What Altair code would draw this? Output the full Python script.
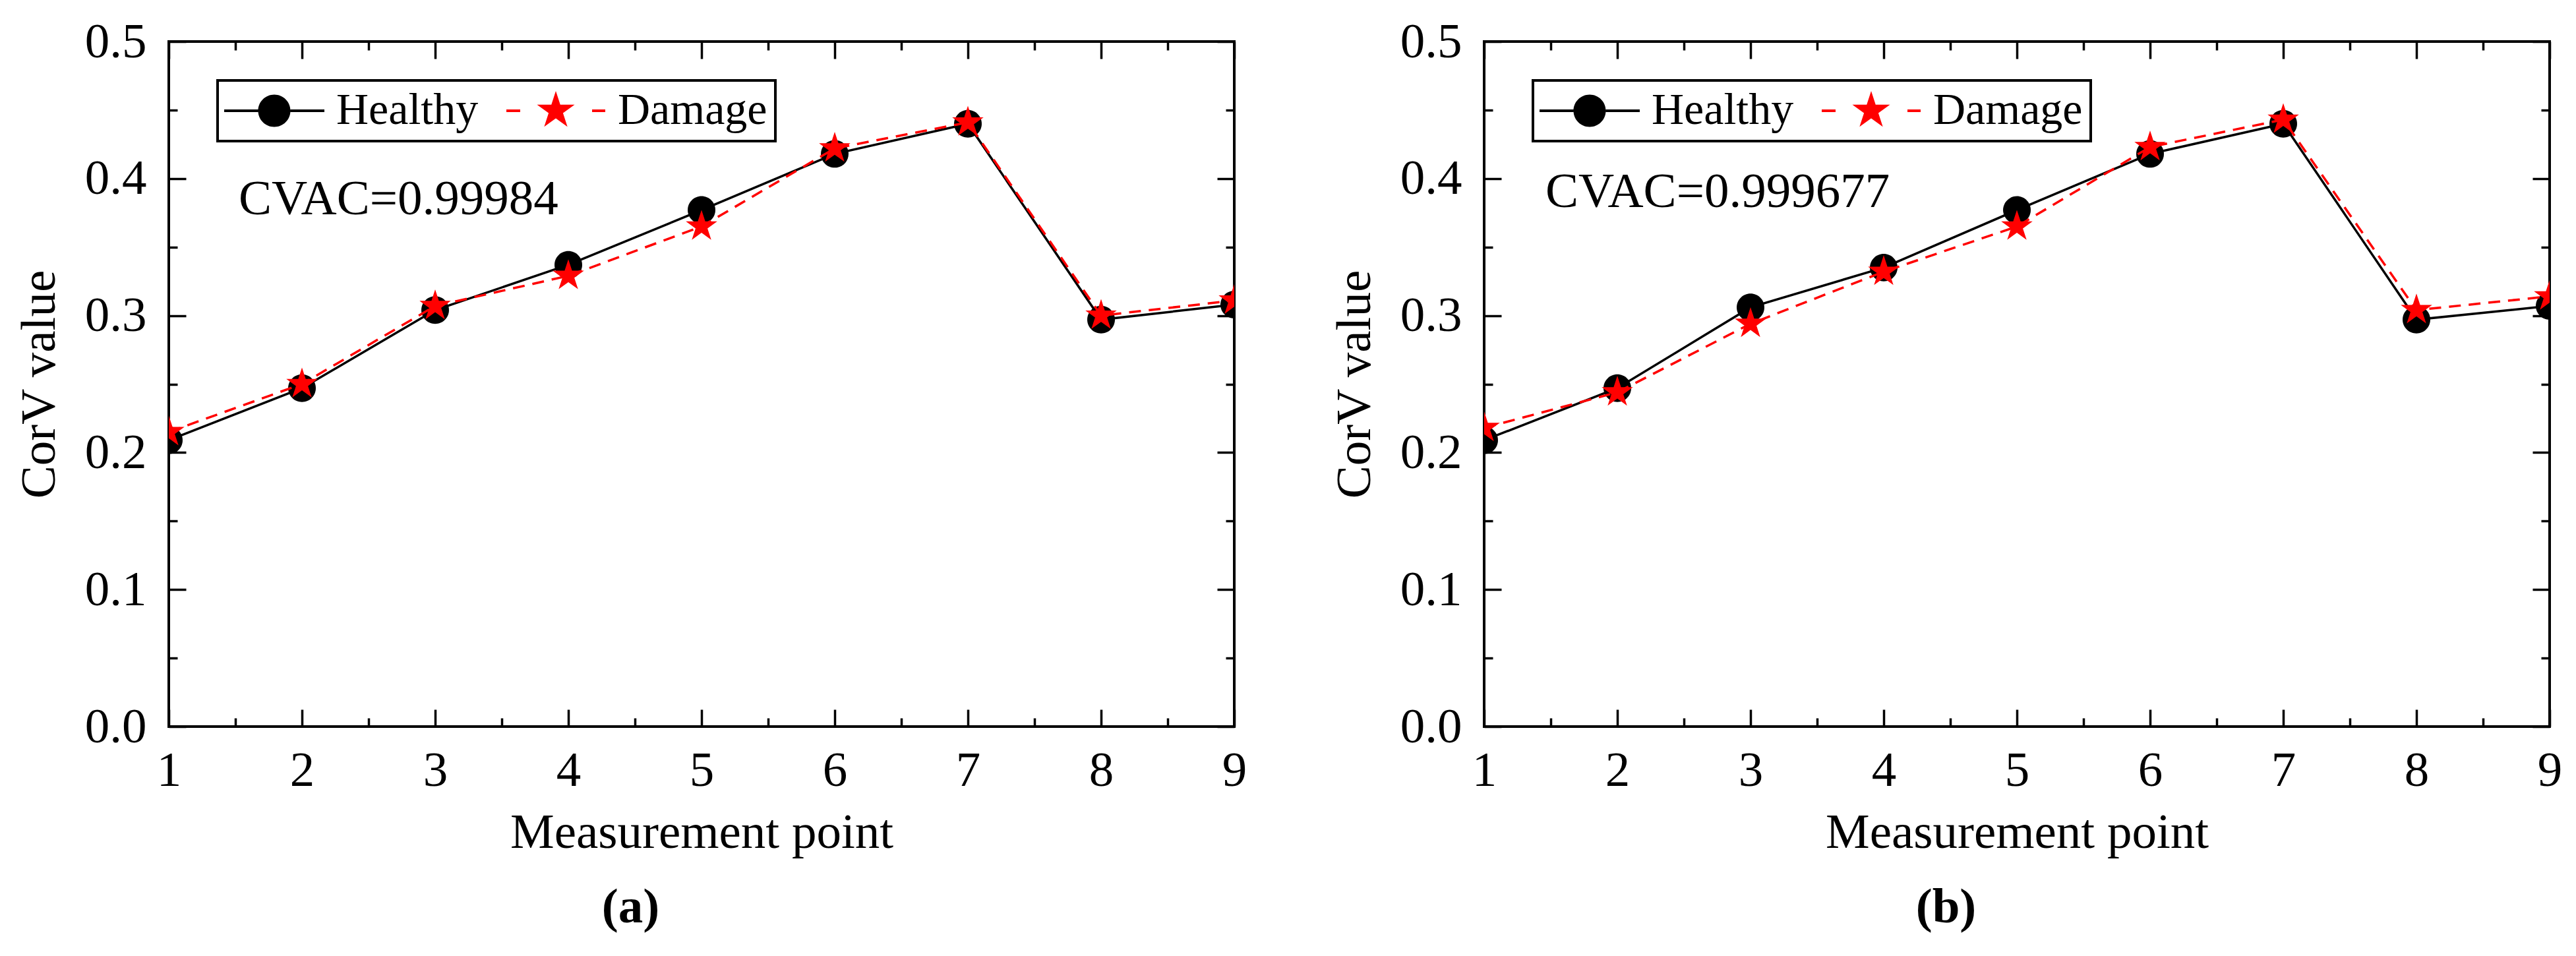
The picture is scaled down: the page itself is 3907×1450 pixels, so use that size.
import altair as alt
import pandas as pd

# ---------------------------------------------------------------------------
# Data
# ---------------------------------------------------------------------------

POINTS = [1, 2, 3, 4, 5, 6, 7, 8, 9]
SERIES = ["Healthy", "Damage"]

HEALTHY_A = [0.209, 0.247, 0.304, 0.337, 0.377, 0.418, 0.440, 0.297, 0.308]
DAMAGE_A = [0.215, 0.250, 0.307, 0.329, 0.365, 0.422, 0.441, 0.300, 0.311]

HEALTHY_B = [0.209, 0.247, 0.306, 0.335, 0.377, 0.418, 0.440, 0.297, 0.307]
DAMAGE_B = [0.218, 0.244, 0.294, 0.332, 0.365, 0.423, 0.443, 0.304, 0.314]

CVAC_A = "CVAC=0.99984"
CVAC_B = "CVAC=0.999677"
PANEL_LABELS = ["(a)", "(b)"]

X_MAJOR = [1, 2, 3, 4, 5, 6, 7, 8, 9]
X_MINOR = [1.5, 2.5, 3.5, 4.5, 5.5, 6.5, 7.5, 8.5]
Y_MAJOR = [0.0, 0.1, 0.2, 0.3, 0.4, 0.5]
Y_MINOR = [0.05, 0.15, 0.25, 0.35, 0.45]

# ---------------------------------------------------------------------------
# Style
# ---------------------------------------------------------------------------

FONT = "Liberation Serif"
W, H = 1616, 1039
FS = 75
MAJOR, MINOR = 26, 13

STAR = ("M0,-1L0.225,-0.309L0.951,-0.309L0.363,0.118L0.588,0.809L0,0.382"
        "L-0.588,0.809L-0.363,0.118L-0.951,-0.309L-0.225,-0.309Z")
DOT = "M-1,0A1,1 0 1,1 1,0A1,1 0 1,1 -1,0Z"

# legend glyphs: line + marker drawn as one filled path
LEG_HEALTHY = ("M-3.04,-0.08H-0.98V0.08H-3.04Z M0.98,-0.08H3.04V0.08H0.98Z "
               "M-0.98,0A0.98,0.98 0 1,1 0.98,0A0.98,0.98 0 1,1 -0.98,0Z")
LEG_DAMAGE = ("M-3.0,-0.08H-2.16V0.08H-3.0Z M2.2,-0.08H3.0V0.08H2.2Z "
              "M0,-1.2L0.27,-0.371L1.141,-0.371L0.436,0.142L0.706,0.971L0,0.458"
              "L-0.706,0.971L-0.436,0.142L-1.141,-0.371L-0.27,-0.371Z")

x_scale = alt.Scale(domain=[1, 9], nice=False, zero=False)
y_scale = alt.Scale(domain=[0, 0.5], nice=False, zero=False)

x_ticks = sorted(X_MAJOR + X_MINOR)
y_ticks = sorted(Y_MAJOR + Y_MINOR)
x_size = {"condition": {"test": "datum.value % 1 === 0", "value": MAJOR}, "value": MINOR}
y_size = {"condition": {"test": "round(datum.value * 20) % 2 === 0", "value": MAJOR},
          "value": MINOR}


def tick_axis(orient, offset, values, size):
    return alt.Axis(orient=orient, offset=offset, values=values, labels=False,
                    domain=False, grid=False, title=None, tickSize=size,
                    tickWidth=3.5, tickColor="black")


def panel(healthy, damage, cvac, cvac_x, cvac_y, label):
    df = pd.DataFrame({
        "point": POINTS + POINTS,
        "value": healthy + damage,
        "series": ["Healthy"] * len(POINTS) + ["Damage"] * len(POINTS),
    })
    base = alt.Chart(df)
    h = base.transform_filter("datum.series == 'Healthy'")
    d = base.transform_filter("datum.series == 'Damage'")

    no_x = alt.X("point:Q", scale=x_scale, axis=None)
    no_y = alt.Y("value:Q", scale=y_scale, axis=None)

    # healthy line carries the labelled axes
    h_line = h.mark_line(color="black", strokeWidth=3.5, clip=True).encode(
        x=alt.X("point:Q", scale=x_scale, axis=alt.Axis(
            values=X_MAJOR, format="d", ticks=False, domain=False, grid=False,
            labelFlush=False, labelPadding=30, labelFontSize=FS, labelFont=FONT,
            labelColor="black",
            title="Measurement point", titleFont=FONT, titleFontSize=FS,
            titleFontWeight="normal", titleColor="black", titlePadding=20)),
        y=alt.Y("value:Q", scale=y_scale, axis=alt.Axis(
            values=Y_MAJOR, format=".1f", ticks=False, domain=False, grid=False,
            labelFlush=False, labelPadding=34, labelFontSize=FS, labelFont=FONT,
            labelColor="black",
            title="CorV value", titleFont=FONT, titleFontSize=FS,
            titleFontWeight="normal", titleColor="black", titlePadding=30)),
    )
    # inward ticks on bottom / left edges
    h_pts = h.mark_point(shape=DOT, filled=True, color="black", size=1760,
                         opacity=1, clip=True).encode(
        x=alt.X("point:Q", scale=x_scale, axis=tick_axis("top", -H, x_ticks, x_size)),
        y=alt.Y("value:Q", scale=y_scale, axis=tick_axis("right", -W, y_ticks, y_size)),
    )
    # inward ticks on top / right edges
    d_line = d.mark_line(color="red", strokeWidth=3.5, strokeDash=[18, 12],
                         clip=True).encode(
        x=alt.X("point:Q", scale=x_scale, axis=tick_axis("bottom", -H, x_ticks, x_size)),
        y=alt.Y("value:Q", scale=y_scale, axis=tick_axis("left", -W, y_ticks, y_size)),
    )
    d_pts = d.mark_point(shape=STAR, filled=True, color="red", size=2500,
                         opacity=1, clip=True).encode(x=no_x, y=no_y)

    leg = alt.Legend(
        title=None, orient="none", legendX=74, legendY=59, direction="horizontal",
        columns=2, labelFont=FONT, labelFontSize=68, labelColor="black", labelLimit=0,
        symbolSize=2500, symbolStrokeWidth=0, symbolOffset=40, labelOffset=60,
        columnPadding=42, padding=12, strokeColor="black", fillColor="white",
    )
    legend = base.transform_filter("false").mark_point(filled=True, opacity=1).encode(
        x=no_x, y=no_y,
        fill=alt.Fill("series:N", scale=alt.Scale(domain=SERIES, range=["black", "red"]),
                      legend=leg),
        shape=alt.Shape("series:N", scale=alt.Scale(domain=SERIES,
                                                    range=[LEG_HEALTHY, LEG_DAMAGE]),
                        legend=leg),
    )

    note = alt.Chart(pd.DataFrame({"x": [cvac_x], "y": [cvac_y], "t": [cvac]})).mark_text(
        align="left", baseline="alphabetic", font=FONT, fontSize=FS, color="black"
    ).encode(
        x=alt.X("x:Q", scale=x_scale, axis=None),
        y=alt.Y("y:Q", scale=y_scale, axis=None),
        text="t:N",
    )

    return (
        alt.layer(h_line, h_pts, d_line, d_pts, legend, note)
        .resolve_axis(x="independent", y="independent")
        .properties(
            width=W, height=H,
            title=alt.TitleParams(label, orient="bottom", frame="bounds", anchor="middle",
                                  font=FONT, fontSize=FS, fontWeight="bold",
                                  color="black", offset=40),
        )
    )


left = panel(HEALTHY_A, DAMAGE_A, CVAC_A, 1.525, 0.374, PANEL_LABELS[0])
right = panel(HEALTHY_B, DAMAGE_B, CVAC_B, 1.46, 0.379, PANEL_LABELS[1])

chart = (
    alt.hconcat(left, right, spacing=122)
    .resolve_scale(fill="independent", shape="independent")
    .resolve_legend(fill="independent", shape="independent")
    .properties(padding={"left": 12, "top": 16, "right": 5, "bottom": 5},
                background="white")
    .configure_view(stroke="black", strokeWidth=4)
    .configure_legend(strokeWidth=4)
)

chart.save("out.html", embed_options={"renderer": "svg", "actions": False})
